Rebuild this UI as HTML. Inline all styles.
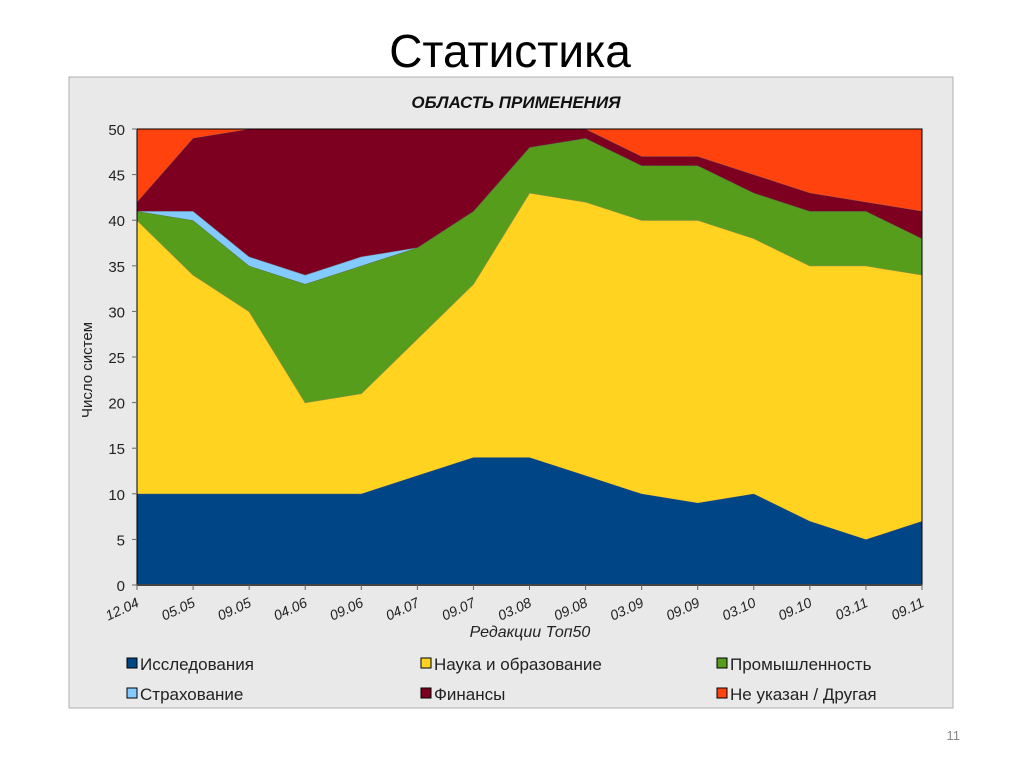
<!DOCTYPE html>
<html><head><meta charset="utf-8"><style>
body{margin:0;background:#fff;width:1024px;height:768px;overflow:hidden;font-family:"Liberation Sans",sans-serif;}
</style></head><body>
<svg width="1024" height="768" xmlns="http://www.w3.org/2000/svg">
<text x="510" y="67" text-anchor="middle" font-family="Liberation Sans, sans-serif" font-size="46" fill="#000">Статистика</text>
<rect x="69" y="77" width="884" height="631" fill="#e9e9e9" stroke="#b0b0b0"/>
<text x="516" y="108" text-anchor="middle" font-size="17" font-weight="bold" font-style="italic" fill="#111">ОБЛАСТЬ ПРИМЕНЕНИЯ</text>
<g id="plot"></g>
<g id="axes"></g>
<text transform="translate(92,370) rotate(-90)" text-anchor="middle" font-size="15" fill="#222">Число систем</text>
<text x="530" y="637" text-anchor="middle" font-size="16" font-style="italic" fill="#222">Редакции Топ50</text>
<g id="legend"></g>
<text x="960" y="740" text-anchor="end" font-size="13" fill="#888">11</text>
</svg>
<script>
const categories=["12.04","05.05","09.05","04.06","09.06","04.07","09.07","03.08","09.08","03.09","09.09","03.10","09.10","03.11","09.11"];
const research=[10,10,10,10,10,12,14,14,12,10,9,10,7,5,7];
const science=[30,24,20,10,11,15,19,29,30,30,31,28,28,30,27];
const industry=[1,6,5,13,14,10,8,5,7,6,6,5,6,6,4];
const insurance=[0,1,1,1,1,0,0,0,0,0,0,0,0,0,0];
const finance=[1,8,14,16,14,13,9,2,1,1,1,2,2,1,3];
const other=[8,1,0,0,0,0,0,0,0,3,3,5,7,8,9];
const yTicks=[0,5,10,15,20,25,30,35,40,45,50];
const seriesNames=["Исследования","Наука и образование","Промышленность","Страхование","Финансы","Не указан / Другая"];
const colors=["#004586","#ffd320","#579d1c","#83caff","#7e0021","#ff420e"];
const ns="http://www.w3.org/2000/svg";
const X0=137,X1=922,Y0=585,Y1=129,YMAX=50;
const xs=i=>X0+(X1-X0)*i/(categories.length-1);
const ys=v=>Y0-(Y0-Y1)*v/YMAX;
const plot=document.getElementById('plot'),axes=document.getElementById('axes'),legend=document.getElementById('legend');
function mk(t,a,p){const e=document.createElementNS(ns,t);for(const k in a)e.setAttribute(k,a[k]);p.appendChild(e);return e;}
const bg=mk('rect',{x:X0,y:Y1,width:X1-X0,height:Y0-Y1,fill:'#e9e9e9'},plot);


const series=[research,science,industry,insurance,finance,other];
const keys=['research','science','industry','insurance','finance','other'];
let base=categories.map(()=>0);
series.forEach((s,k)=>{
  const top=base.map((b,i)=>b+s[i]);
  let d='';
  top.forEach((v,i)=>{d+=(i?'L':'M')+xs(i)+','+ys(v);});
  for(let i=base.length-1;i>=0;i--)d+='L'+xs(i)+','+ys(base[i]);
  const p=mk('path',{d:d+'Z',fill:colors[k],stroke:'none'},plot);
  
  
  let ld='';top.forEach((v,i)=>{ld+=(i?'L':'M')+xs(i)+','+ys(v);});
  mk('path',{d:ld,fill:'none',stroke:'#555','stroke-width':1,'stroke-opacity':0.6},plot);
  base=top;
});
const fr=mk('rect',{x:X0,y:Y1,width:X1-X0,height:Y0-Y1,fill:'none',stroke:'#000','stroke-width':1},axes);


mk('line',{x1:X0,y1:Y0,x2:X1,y2:Y0,stroke:'#444','stroke-width':2},axes);
yTicks.forEach(v=>{
  mk('line',{x1:X0-5,y1:ys(v),x2:X0,y2:ys(v),stroke:'#666'},axes);
  const t=mk('text',{x:X0-12,y:ys(v)+6,'text-anchor':'end','font-size':15,fill:'#222'},axes);
  t.textContent=v;
  
  
});
categories.forEach((c,i)=>{
  mk('line',{x1:xs(i),y1:Y0,x2:xs(i),y2:Y0+5,stroke:'#666'},axes);
  const t=mk('text',{transform:`translate(${xs(i)+3},${Y0+21}) rotate(-25)`,'text-anchor':'end','font-size':14,'font-style':'italic',fill:'#222'},axes);
  t.textContent=c;
  
  
});
const lx=[127,421,717],ly=[669,699];
seriesNames.forEach((n,k)=>{
  const x=lx[k%3],y=ly[Math.floor(k/3)];
  const r=mk('rect',{x:x,y:y-11,width:10,height:10,fill:colors[k],stroke:'#000','stroke-width':1},legend);
  
  
  const t=mk('text',{x:x+13,y:y+1,'font-size':17,fill:'#222'},legend);
  t.textContent=n;
  
  
});
</script>
</body></html>
